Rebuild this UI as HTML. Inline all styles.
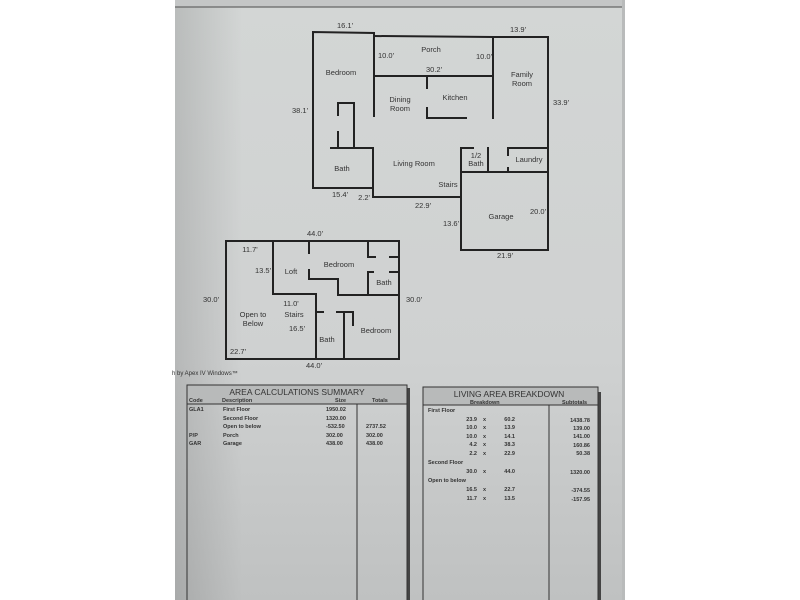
<!DOCTYPE html>
<html><head><meta charset="utf-8"><style>
html,body{margin:0;padding:0;background:#fff;width:800px;height:600px;overflow:hidden}
svg text{font-family:"Liberation Sans",sans-serif;fill:#333}
.m{font-family:"Liberation Mono",monospace;font-weight:bold;fill:#444}
</style></head><body>
<svg width="800" height="600" viewBox="0 0 800 600" xmlns="http://www.w3.org/2000/svg">
<defs>
<linearGradient id="pg" x1="0" y1="0" x2="0" y2="1">
<stop offset="0" stop-color="#d3d6d5"/><stop offset="0.6" stop-color="#cfd1d1"/><stop offset="1" stop-color="#bfc1c1"/>
</linearGradient>
<linearGradient id="lg" x1="0" y1="0" x2="1" y2="0">
<stop offset="0" stop-color="#000" stop-opacity="0.12"/><stop offset="0.15" stop-color="#000" stop-opacity="0"/>
</linearGradient>
</defs>
<rect x="175" y="0" width="450" height="600" fill="url(#pg)"/>
<rect x="175" y="0" width="450" height="600" fill="url(#lg)"/>
<rect x="175" y="0" width="450" height="7" fill="#c4c6c6"/>
<line x1="175" y1="7" x2="625" y2="7" stroke="#666" stroke-width="1.2"/>
<rect x="622" y="0" width="3" height="600" fill="#b9bbbb"/>

<g stroke="#222" stroke-width="2" fill="none" stroke-linecap="square">
<polyline points="374,33 313,32 313,188 373,188 373,197 461,197 461,250 548,250 548,37 493,37 374,36"/>
<line x1="374" y1="33" x2="374" y2="116"/>
<line x1="374" y1="76" x2="493" y2="76"/>
<line x1="493" y1="37" x2="493" y2="118"/>
<line x1="427" y1="77" x2="427" y2="88"/>
<polyline points="427,108 427,118 466,118"/>
<polyline points="338,115 338,103 354,103 354,148"/>
<line x1="338" y1="132" x2="338" y2="148"/>
<polyline points="331,148 373,148 373,188"/>
<line x1="461" y1="148" x2="461" y2="197"/>
<line x1="461" y1="148" x2="473" y2="148"/>
<line x1="488" y1="148" x2="488" y2="172"/>
<line x1="461" y1="172" x2="548" y2="172"/>
<polyline points="508,155 508,148 548,148"/>
<line x1="508" y1="168" x2="508" y2="172"/>
<rect x="226" y="241" width="173" height="118"/>
<polyline points="273,241 273,294 316,294 316,359"/>
<line x1="309" y1="241" x2="309" y2="253"/>
<polyline points="309,270 309,279 338,279 338,295 399,295"/>
<polyline points="368,241 368,257 375,257"/>
<line x1="390" y1="257" x2="399" y2="257"/>
<polyline points="373,272 368,272 368,295"/>
<line x1="390" y1="272" x2="399" y2="272"/>
<line x1="316" y1="312" x2="323" y2="312"/>
<line x1="344" y1="312" x2="344" y2="359"/>
<polyline points="337,312 353,312 353,325"/>
</g>

<g font-size="7.5" text-anchor="middle">
<text x="345" y="28">16.1'</text>
<text x="518" y="32">13.9'</text>
<text x="431" y="52">Porch</text>
<text x="386" y="58">10.0'</text>
<text x="484" y="59">10.0'</text>
<text x="434" y="72">30.2'</text>
<text x="341" y="75">Bedroom</text>
<text x="522" y="77">Family</text>
<text x="522" y="86">Room</text>
<text x="400" y="102">Dining</text>
<text x="400" y="111">Room</text>
<text x="455" y="100">Kitchen</text>
<text x="300" y="113">38.1'</text>
<text x="561" y="105">33.9'</text>
<text x="476" y="158">1/2</text>
<text x="476" y="166">Bath</text>
<text x="529" y="162">Laundry</text>
<text x="342" y="171">Bath</text>
<text x="414" y="166">Living Room</text>
<text x="448" y="187">Stairs</text>
<text x="340" y="197">15.4'</text>
<text x="364" y="200">2.2'</text>
<text x="423" y="208">22.9'</text>
<text x="451" y="226">13.6'</text>
<text x="501" y="219">Garage</text>
<text x="538" y="214">20.0'</text>
<text x="505" y="258">21.9'</text>
<text x="315" y="236">44.0'</text>
<text x="250" y="252">11.7'</text>
<text x="263" y="273">13.5'</text>
<text x="291" y="274">Loft</text>
<text x="339" y="267">Bedroom</text>
<text x="384" y="285">Bath</text>
<text x="211" y="302">30.0'</text>
<text x="414" y="302">30.0'</text>
<text x="291" y="306">11.0'</text>
<text x="253" y="317">Open to</text>
<text x="253" y="326">Below</text>
<text x="294" y="317">Stairs</text>
<text x="297" y="331">16.5'</text>
<text x="327" y="342">Bath</text>
<text x="376" y="333">Bedroom</text>
<text x="238" y="354">22.7'</text>
<text x="314" y="368">44.0'</text>
</g>
<text x="172" y="375" font-size="6">h by Apex IV Windows™</text>

<rect x="407" y="388" width="3" height="212" fill="#444"/>
<rect x="187" y="385" width="220" height="19" fill="#b8baba"/>
<g stroke="#333" stroke-width="1" fill="none">
<polyline points="187,600 187,385 407,385 407,600"/>
<line x1="187" y1="404" x2="407" y2="404"/>
<line x1="357" y1="404" x2="357" y2="600"/>
</g>
<text x="297" y="395" font-size="8.5" text-anchor="middle">AREA CALCULATIONS SUMMARY</text>
<g font-size="5.5" class="m">
<text x="189" y="402">Code</text><text x="222" y="402">Description</text><text x="335" y="402">Size</text><text x="372" y="402">Totals</text>
<text x="189" y="411">GLA1</text><text x="223" y="411">First Floor</text><text x="326" y="411">1950.02</text>
<text x="223" y="420">Second Floor</text><text x="326" y="420">1320.00</text>
<text x="223" y="428">Open to below</text><text x="326" y="428">-532.50</text><text x="366" y="428">2737.52</text>
<text x="189" y="437">P/P</text><text x="223" y="437">Porch</text><text x="326" y="437">302.00</text><text x="366" y="437">302.00</text>
<text x="189" y="445">GAR</text><text x="223" y="445">Garage</text><text x="326" y="445">438.00</text><text x="366" y="445">438.00</text>
</g>

<rect x="598" y="392" width="3" height="208" fill="#444"/>
<rect x="423" y="387" width="175" height="18" fill="#b8baba"/>
<g stroke="#333" stroke-width="1" fill="none">
<polyline points="423,600 423,387 598,387 598,600"/>
<line x1="423" y1="405" x2="598" y2="405"/>
<line x1="549" y1="405" x2="549" y2="600"/>
</g>
<text x="509" y="397" font-size="8.5" text-anchor="middle">LIVING AREA BREAKDOWN</text>
<g font-size="5.5" class="m">
<text x="470" y="404">Breakdown</text><text x="562" y="404">Subtotals</text>
<text x="428" y="412">First Floor</text>
<g text-anchor="end">
<text x="477" y="421">23.9</text><text x="477" y="429">10.0</text><text x="477" y="438">10.0</text><text x="477" y="446">4.2</text><text x="477" y="455">2.2</text><text x="477" y="473">30.0</text><text x="477" y="491">16.5</text><text x="477" y="500">11.7</text>
<text x="515" y="421">60.2</text><text x="515" y="429">13.9</text><text x="515" y="438">14.1</text><text x="515" y="446">38.3</text><text x="515" y="455">22.9</text><text x="515" y="473">44.0</text><text x="515" y="491">22.7</text><text x="515" y="500">13.5</text>
<text x="590" y="422">1438.78</text><text x="590" y="430">139.00</text><text x="590" y="438">141.00</text><text x="590" y="447">160.86</text><text x="590" y="455">50.38</text><text x="590" y="474">1320.00</text><text x="590" y="492">-374.55</text><text x="590" y="501">-157.95</text>
</g>
<text x="483" y="421">x</text><text x="483" y="429">x</text><text x="483" y="438">x</text><text x="483" y="446">x</text><text x="483" y="455">x</text><text x="483" y="473">x</text><text x="483" y="491">x</text><text x="483" y="500">x</text>
<text x="428" y="464">Second Floor</text>
<text x="428" y="482">Open to below</text>
</g>
</svg>
</body></html>
